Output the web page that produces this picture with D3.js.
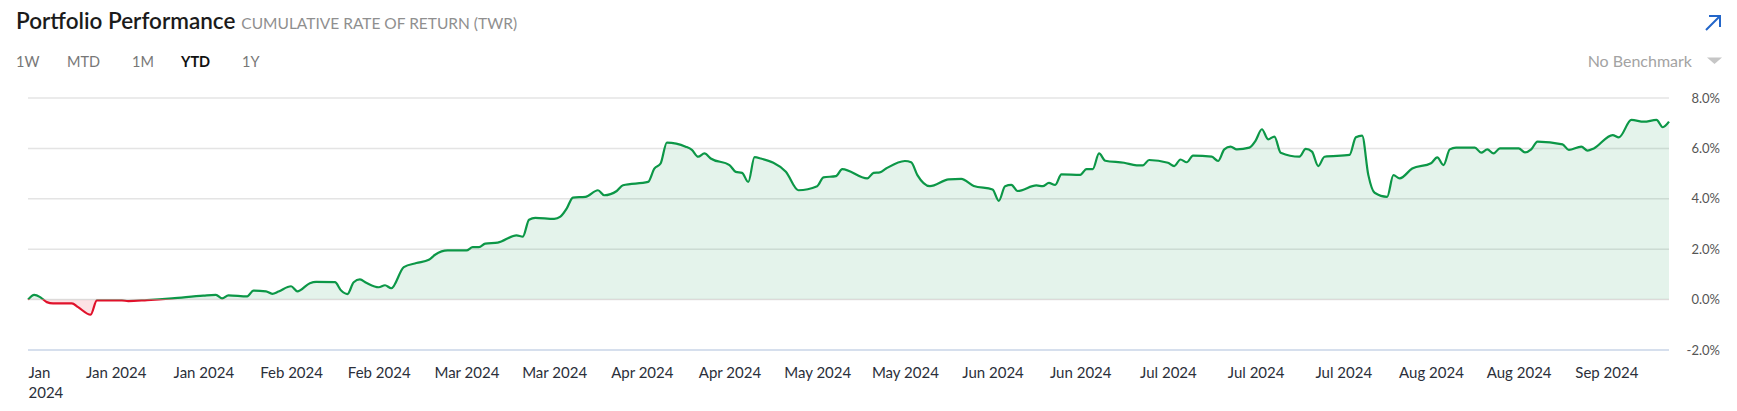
<!DOCTYPE html>
<html>
<head>
<meta charset="utf-8">
<script src="https://cdn.jsdelivr.net/npm/d3@7"></script>
<style>
  body { margin: 0; background: #fff; }
  svg { display: block; font-family: Lato, "Open Sans", sans-serif; }
</style>
</head>
<body>
<script>

// cumulative TWR (percent)
var dates = [
    '2024-01-01', '2024-01-02', '2024-01-03', '2024-01-04', '2024-01-05', '2024-01-08', '2024-01-09',
    '2024-01-11', '2024-01-12', '2024-01-16', '2024-01-17', '2024-01-20', '2024-01-24', '2024-01-29',
    '2024-01-31', '2024-02-01', '2024-02-02', '2024-02-05', '2024-02-06', '2024-02-08', '2024-02-09',
    '2024-02-10', '2024-02-12', '2024-02-13', '2024-02-15', '2024-02-16', '2024-02-19', '2024-02-20',
    '2024-02-21', '2024-02-22', '2024-02-23', '2024-02-24', '2024-02-26', '2024-02-27', '2024-02-28',
    '2024-03-01', '2024-03-03', '2024-03-05', '2024-03-06', '2024-03-08', '2024-03-11', '2024-03-12',
    '2024-03-13', '2024-03-14', '2024-03-16', '2024-03-19', '2024-03-20', '2024-03-21', '2024-03-22',
    '2024-03-25', '2024-03-26', '2024-03-27', '2024-03-28', '2024-03-30', '2024-04-01', '2024-04-02',
    '2024-04-04', '2024-04-05', '2024-04-09', '2024-04-10', '2024-04-11', '2024-04-12', '2024-04-15',
    '2024-04-16', '2024-04-17', '2024-04-18', '2024-04-19', '2024-04-22', '2024-04-23', '2024-04-24',
    '2024-04-25', '2024-04-26', '2024-04-27', '2024-05-01', '2024-05-03', '2024-05-06', '2024-05-07',
    '2024-05-09', '2024-05-10', '2024-05-14', '2024-05-15', '2024-05-16', '2024-05-17', '2024-05-20',
    '2024-05-21', '2024-05-22', '2024-05-24', '2024-05-27', '2024-05-29', '2024-05-31', '2024-06-03',
    '2024-06-04', '2024-06-05', '2024-06-06', '2024-06-07', '2024-06-10', '2024-06-11', '2024-06-12',
    '2024-06-13', '2024-06-14', '2024-06-17', '2024-06-18', '2024-06-19', '2024-06-20', '2024-06-21',
    '2024-06-24', '2024-06-26', '2024-06-27', '2024-06-28', '2024-07-01', '2024-07-02', '2024-07-03',
    '2024-07-04', '2024-07-05', '2024-07-08', '2024-07-09', '2024-07-10', '2024-07-11', '2024-07-12',
    '2024-07-14', '2024-07-15', '2024-07-16', '2024-07-17', '2024-07-18', '2024-07-19', '2024-07-22',
    '2024-07-23', '2024-07-24', '2024-07-25', '2024-07-26', '2024-07-30', '2024-07-31', '2024-08-01',
    '2024-08-02', '2024-08-03', '2024-08-05', '2024-08-06', '2024-08-07', '2024-08-09', '2024-08-12',
    '2024-08-13', '2024-08-14', '2024-08-15', '2024-08-16', '2024-08-19', '2024-08-20', '2024-08-21',
    '2024-08-22', '2024-08-23', '2024-08-26', '2024-08-27', '2024-08-28', '2024-08-29', '2024-09-02',
    '2024-09-03', '2024-09-05', '2024-09-06', '2024-09-07', '2024-09-10', '2024-09-11', '2024-09-13',
    '2024-09-15', '2024-09-17', '2024-09-18', '2024-09-19'
];

var returns = [
    0.00, 0.19, 0.09, -0.10, -0.15, -0.15, -0.30,
    -0.60, -0.03, -0.03, -0.06, -0.02, 0.05, 0.16,
    0.19, 0.05, 0.17, 0.13, 0.36, 0.33, 0.23,
    0.32, 0.53, 0.33, 0.65, 0.70, 0.69, 0.36,
    0.22, 0.69, 0.80, 0.67, 0.49, 0.57, 0.45,
    1.29, 1.45, 1.58, 1.78, 1.95, 1.95, 2.08,
    2.08, 2.22, 2.26, 2.55, 2.50, 3.17, 3.24,
    3.20, 3.29, 3.61, 4.05, 4.08, 4.34, 4.14,
    4.31, 4.54, 4.67, 5.20, 5.40, 6.23, 6.07,
    5.94, 5.67, 5.80, 5.60, 5.34, 5.07, 5.03,
    4.67, 5.65, 5.60, 5.07, 4.34, 4.50, 4.85,
    4.90, 5.18, 4.81, 5.03, 5.05, 5.20, 5.50,
    5.45, 4.94, 4.50, 4.77, 4.79, 4.51, 4.37,
    3.92, 4.50, 4.55, 4.31, 4.53, 4.50, 4.63,
    4.55, 4.97, 4.95, 5.18, 5.18, 5.80, 5.51,
    5.43, 5.33, 5.33, 5.54, 5.43, 5.30, 5.56,
    5.45, 5.71, 5.67, 5.50, 5.96, 6.07, 5.96,
    6.03, 6.31, 6.76, 6.36, 6.47, 5.83, 5.67,
    5.98, 5.87, 5.30, 5.67, 5.74, 6.44, 6.51,
    4.94, 4.24, 4.08, 4.94, 4.81, 5.20, 5.41,
    5.64, 5.34, 5.96, 6.03, 6.03, 5.83, 5.96,
    5.80, 6.00, 6.00, 5.84, 5.96, 6.27, 6.16,
    5.94, 6.07, 5.91, 6.00, 6.53, 6.44, 7.13,
    7.06, 7.13, 6.84, 7.06
];

var yTicks = [-2, 0, 2, 4, 6, 8];
var periods = ['1W', 'MTD', '1M', 'YTD', '1Y'];
var activePeriod = 'YTD';

var width = 1737,
    height = 411,
    plotLeft = 28,
    plotRight = 1669,
    plotTop = 98,
    plotBottom = 350;

var parseDate = d3.timeParse('%Y-%m-%d');
var series = dates.map(function (d, i) { return { date: parseDate(d), value: returns[i] }; });

var svg = d3.select('body').append('svg')
    .attr('width', width)
    .attr('height', height);

var x = d3.scaleTime()
    .domain([parseDate('2024-01-01'), parseDate('2024-09-19')])
    .range([plotLeft, plotRight]);

var y = d3.scaleLinear()
    .domain([-2, 8])
    .range([plotBottom, plotTop]);

var zeroY = y(0);

// header
var title = svg.append('text')
    .attr('x', 16).attr('y', 29)
    .attr('font-size', 22.5).attr('font-weight', 600)
    .attr('fill', '#1b1b1b')
    .text('Portfolio Performance');

var titleEnd = 16 + title.node().getComputedTextLength();

svg.append('text')
    .attr('x', titleEnd + 6).attr('y', 29)
    .attr('font-size', 15.5)
    .attr('fill', '#8f8f8f')
    .text('CUMULATIVE RATE OF RETURN (TWR)');

var tabX = [16, 67, 132, 181, 242];
svg.selectAll('.period')
    .data(periods)
    .enter().append('text')
    .attr('class', 'period')
    .attr('x', function (d, i) { return tabX[i]; })
    .attr('y', 67)
    .attr('font-size', 14.5)
    .attr('font-weight', function (d) { return d === activePeriod ? 700 : 400; })
    .attr('fill', function (d) { return d === activePeriod ? '#111' : '#777'; })
    .text(function (d) { return d; });

svg.append('text')
    .attr('x', 1692).attr('y', 67)
    .attr('text-anchor', 'end')
    .attr('font-size', 16)
    .attr('fill', '#a3a3a3')
    .text('No Benchmark');

svg.append('path')
    .attr('d', 'M1707,57.5 L1722,57.5 L1714.5,64 Z')
    .attr('fill', '#c6c6c6');

// expand arrow
svg.append('path')
    .attr('d', 'M1706,30 L1720,16 M1709,16 L1720,16 L1720,27')
    .attr('fill', 'none')
    .attr('stroke', '#2366c9')
    .attr('stroke-width', 2);

// gridlines
svg.append('g')
    .selectAll('line')
    .data(yTicks)
    .enter().append('line')
    .attr('x1', plotLeft).attr('x2', plotRight)
    .attr('y1', function (d) { return y(d); })
    .attr('y2', function (d) { return y(d); })
    .attr('stroke', function (d) { return d === -2 ? '#d6dfed' : '#e4e4e4'; })
    .attr('stroke-width', function (d) { return d === -2 ? 2 : 1.5; });

// clip regions above / below zero
var defs = svg.append('defs');
defs.append('clipPath').attr('id', 'above')
    .append('rect')
    .attr('x', 0).attr('y', 0)
    .attr('width', width).attr('height', zeroY);
defs.append('clipPath').attr('id', 'below')
    .append('rect')
    .attr('x', 0).attr('y', zeroY)
    .attr('width', width).attr('height', height - zeroY);

var area = d3.area()
    .x(function (d) { return x(d.date); })
    .y0(zeroY)
    .y1(function (d) { return y(d.value); })
    .curve(d3.curveMonotoneX);

var line = d3.line()
    .x(function (d) { return x(d.date); })
    .y(function (d) { return y(d.value); })
    .curve(d3.curveMonotoneX);

svg.append('path')
    .datum(series)
    .attr('d', area)
    .attr('clip-path', 'url(#above)')
    .attr('fill', 'rgba(12,150,72,0.11)');

svg.append('path')
    .datum(series)
    .attr('d', area)
    .attr('clip-path', 'url(#below)')
    .attr('fill', 'rgba(228,20,40,0.12)');

svg.append('path')
    .datum(series)
    .attr('d', line)
    .attr('clip-path', 'url(#above)')
    .attr('fill', 'none')
    .attr('stroke', '#0c9747')
    .attr('stroke-width', 2.2);

svg.append('path')
    .datum(series)
    .attr('d', line)
    .attr('clip-path', 'url(#below)')
    .attr('fill', 'none')
    .attr('stroke', '#e0122b')
    .attr('stroke-width', 2.2);

// y axis labels on the right
var yAxis = svg.append('g')
    .attr('transform', 'translate(1720,0)')
    .call(d3.axisLeft(y)
        .tickValues(yTicks)
        .tickSize(0)
        .tickPadding(0)
        .tickFormat(function (d) { return d.toFixed(1) + '%'; }));
yAxis.select('.domain').remove();
yAxis.selectAll('text')
    .attr('font-family', 'Lato, "Open Sans", sans-serif')
    .attr('font-size', 13)
    .attr('fill', '#555');

// x axis: a tick every two weeks
var xTicks = d3.timeDay.range(parseDate('2024-01-01'), parseDate('2024-09-20'), 14);
var xAxis = svg.append('g')
    .attr('transform', 'translate(0,' + plotBottom + ')')
    .call(d3.axisBottom(x)
        .tickValues(xTicks)
        .tickSize(0)
        .tickPadding(17)
        .tickFormat(d3.timeFormat('%b %Y')));
xAxis.select('.domain').remove();
xAxis.selectAll('text')
    .attr('font-family', 'Lato, "Open Sans", sans-serif')
    .attr('font-size', 15)
    .attr('fill', '#2b2f3a');

// first label sits at the edge, so it wraps onto two lines
var first = xAxis.select('.tick text');
first.text(null)
    .attr('text-anchor', 'start');
first.append('tspan').attr('x', 0).text('Jan');
first.append('tspan').attr('x', 0).attr('dy', '1.35em').text('2024');

</script>
</body>
</html>
